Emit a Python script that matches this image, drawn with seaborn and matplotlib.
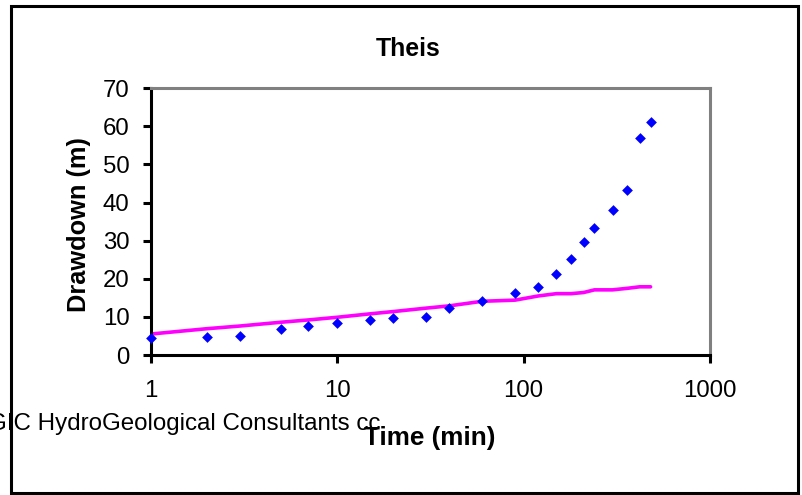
import matplotlib
matplotlib.use("Agg")
import matplotlib.pyplot as plt
from matplotlib.patches import Rectangle
from matplotlib.ticker import NullLocator, FixedLocator, FixedFormatter
import pandas as pd
import seaborn as sns

# Pumping test: elapsed time (min) and drawdown (m)
time_min = [1, 2, 3, 5, 7, 10, 15, 20, 30, 40, 60, 90, 120, 150, 180, 210, 240, 300, 360, 420, 480]
observed_drawdown = [4.4, 4.8, 5.0, 6.7, 7.7, 8.3, 9.2, 9.8, 10.0, 12.4, 14.1, 16.2, 17.9, 21.2,
                     25.3, 29.6, 33.4, 38.1, 43.3, 57.0, 61.2]
theis_drawdown = [5.5, 6.9, 7.6, 8.6, 9.2, 9.9, 10.8, 11.4, 12.3, 12.9, 14.1, 14.4, 15.5, 16.1,
                  16.1, 16.4, 17.1, 17.1, 17.5, 17.9, 17.9]

y_ticks = [0, 10, 20, 30, 40, 50, 60, 70]
x_ticks = [1, 10, 100, 1000]
x_tick_labels = ["1", "10", "100", "1000"]

sns.set_theme(style="white")
plt.rcParams["font.family"] = ["Liberation Sans", "DejaVu Sans"]

W, H = 802, 495
fig = plt.figure(figsize=(W / 100, H / 100), dpi=100)
fig.patch.set_facecolor("white")


def px(x, y):
    """Pixel position (from top-left) to figure fraction."""
    return x / W, 1 - y / H


left, top = 150.7, 88.3
right, bottom = 710.0, 355.0
ax = fig.add_axes([left / W, 1 - bottom / H, (right - left) / W, (bottom - top) / H])

df = pd.DataFrame({"time": time_min, "observed": observed_drawdown, "theis": theis_drawdown})

sns.lineplot(data=df, x="time", y="theis", color="#FF00FF", linewidth=2.6, ax=ax, zorder=2)
sns.scatterplot(data=df, x="time", y="observed", marker="D", color="#0000FF", s=30,
                linewidth=0, ax=ax, zorder=3, clip_on=False)

ax.set_xscale("log")
ax.set_xlim(1, 1000)
ax.set_ylim(0, 70)
ax.xaxis.set_major_locator(FixedLocator(x_ticks))
ax.xaxis.set_major_formatter(FixedFormatter(x_tick_labels))
ax.xaxis.set_minor_locator(NullLocator())
ax.set_yticks(y_ticks)
ax.set_yticklabels([str(v) for v in y_ticks])
ax.set_xlabel("")
ax.set_ylabel("")

for side in ("left", "bottom"):
    ax.spines[side].set_color("black")
    ax.spines[side].set_linewidth(2.2)
for side in ("top", "right"):
    ax.spines[side].set_color("#808080")
    ax.spines[side].set_linewidth(2.2)
    ax.spines[side].set_visible(True)

ax.tick_params(axis="both", which="major", direction="out", length=5.8, width=2.2,
               color="black", labelsize=17.3, labelcolor="black", bottom=True, left=True)
ax.tick_params(axis="x", pad=12)
ax.tick_params(axis="y", pad=9.5)

# Titles and labels
fig.text(*px(408, 55.5), "Theis", ha="center", va="baseline", fontsize=17.8,
         fontweight="bold", color="black")
fig.text(*px(430, 445), "Time (min)", ha="center", va="baseline", fontsize=18.8,
         fontweight="bold", color="black", zorder=5)
fig.text(*px(79, 225), "Drawdown (m)", ha="center", va="center", rotation=90,
         fontsize=18.3, fontweight="bold", color="black")
fig.text(*px(-12, 430), "GIC HydroGeological Consultants cc", ha="left", va="baseline",
         fontsize=17.4, color="black", zorder=4)

# Chart frame
x0, y0 = px(10.5, 493)
x1, y1 = px(797.5, 5.8)
fig.add_artist(Rectangle((x0, y0), x1 - x0, y1 - y0, transform=fig.transFigure,
                         fill=False, edgecolor="black", linewidth=2.2, zorder=3))

fig.savefig("out.png", dpi=100, facecolor="white")
